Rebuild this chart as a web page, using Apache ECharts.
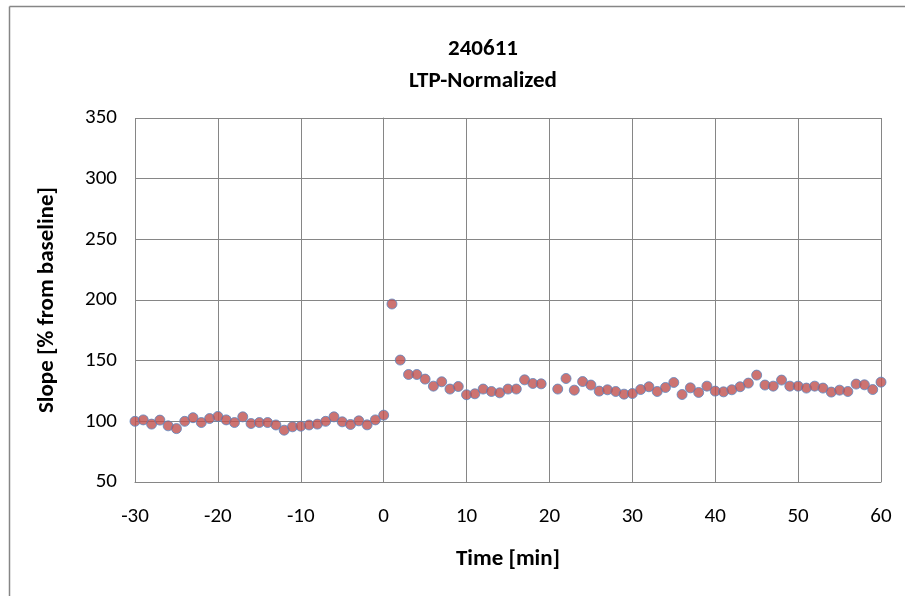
<!DOCTYPE html>
<html>
<head>
<meta charset="utf-8">
<script src="https://cdn.jsdelivr.net/npm/echarts@6/dist/echarts.min.js"></script>
<style>
  html, body { margin: 0; padding: 0; background: #fff; }
  #chart { width: 905px; height: 596px; }
</style>
</head>
<body>
<div id="chart"></div>
<script>
// Recording time points (minutes relative to LTP induction at 0)
const timeMin = [
  -30, -29, -28, -27, -26, -25, -24, -23, -22, -21,
  -20, -19, -18, -17, -16, -15, -14, -13, -12, -11,
  -10, -9, -8, -7, -6, -5, -4, -3, -2, -1, 0,
  1, 2, 3, 4, 5, 6, 7, 8, 9, 10,
  11, 12, 13, 14, 15, 16, 17, 18, 19,
  21, 22, 23, 24, 25, 26, 27, 28, 29, 30,
  31, 32, 33, 34, 35, 36, 37, 38, 39, 40,
  41, 42, 43, 44, 45, 46, 47, 48, 49, 50,
  51, 52, 53, 54, 55, 56, 57, 58, 59, 60
];

// fEPSP slope, normalized to the baseline mean (%)
const slopePct = [
  100, 101.2, 97.7, 101, 96.3, 94, 100, 103, 99, 102.3,
  104, 101.2, 99, 103.7, 98.2, 99, 99, 97, 92.7, 95.5,
  96, 97, 97.7, 100, 103.7, 99.6, 97.4, 100.4, 97.1, 101.2, 105.1,
  196.7, 150.5, 138.6, 138.6, 134.8, 129, 132.6, 126.6, 128.7, 121.9,
  122.7, 126.6, 124.6, 123.5, 126.6, 126.6, 134.2, 131.2, 130.9,
  126.6, 135.3, 125.7, 132.8, 129.9, 124.9, 126, 124.6, 122.4, 122.9,
  126.2, 128.5, 124.6, 127.9, 132, 122.1, 127.6, 123.8, 129, 124.9,
  124.3, 126, 128.5, 131.5, 138.1, 129.9, 129, 134, 129, 129,
  127.4, 129, 127.4, 124.1, 125.7, 124.6, 130.7, 130.1, 126.2, 132.3
];

const titleLines = ['240611', 'LTP-Normalized'];
const xAxisName = 'Time [min]';
const yAxisName = 'Slope [% from baseline]';

const FONT = 'Carlito, Lato, "Open Sans", sans-serif';
const points = timeMin.map((t, i) => [t, slopePct[i]]);

const chart = echarts.init(document.getElementById('chart'), null, { renderer: 'canvas' });
chart.setOption({
  backgroundColor: '#ffffff',
  animation: false,
  title: {
    text: titleLines.join('\n'),
    left: 478,
    top: 28,
    textAlign: 'center',
    textStyle: {
      fontFamily: FONT,
      fontSize: 23,
      fontWeight: 'bold',
      color: '#000',
      lineHeight: 32
    }
  },
  graphic: [
    { type: 'line', shape: { x1: 9.5, y1: 6.5, x2: 9.5, y2: 600 }, style: { stroke: '#868686', lineWidth: 1.5 }, silent: true },
    { type: 'line', shape: { x1: 9.5, y1: 6.5, x2: 910, y2: 6.5 }, style: { stroke: '#868686', lineWidth: 1.5 }, silent: true }
  ],
  grid: { left: 135, right: 24, top: 118, bottom: 114, containLabel: false },
  xAxis: {
    type: 'value',
    min: -30,
    max: 60,
    interval: 10,
    name: xAxisName,
    nameLocation: 'middle',
    nameGap: 66,
    nameTextStyle: { fontFamily: FONT, fontSize: 23, fontWeight: 'bold', color: '#000' },
    axisLine: { show: true, lineStyle: { color: '#868686', width: 1 } },
    axisTick: { show: false },
    axisLabel: { fontFamily: FONT, fontSize: 21, color: '#000', margin: 24 },
    splitLine: { show: true, lineStyle: { color: '#868686', width: 1 } }
  },
  yAxis: {
    type: 'value',
    min: 50,
    max: 350,
    interval: 50,
    name: yAxisName,
    nameLocation: 'middle',
    nameGap: 76,
    nameTextStyle: { fontFamily: FONT, fontSize: 23, fontWeight: 'bold', color: '#000' },
    axisLine: { show: true, lineStyle: { color: '#868686', width: 1 } },
    axisTick: { show: false },
    axisLabel: { fontFamily: FONT, fontSize: 21, color: '#000', margin: 18 },
    splitLine: { show: true, lineStyle: { color: '#868686', width: 1 } }
  },
  series: [{
    type: 'scatter',
    data: points,
    symbol: 'circle',
    symbolSize: 10,
    itemStyle: { color: '#C0504D', borderColor: '#5B86C0', borderWidth: 1 }
  }]
});
</script>
</body>
</html>
